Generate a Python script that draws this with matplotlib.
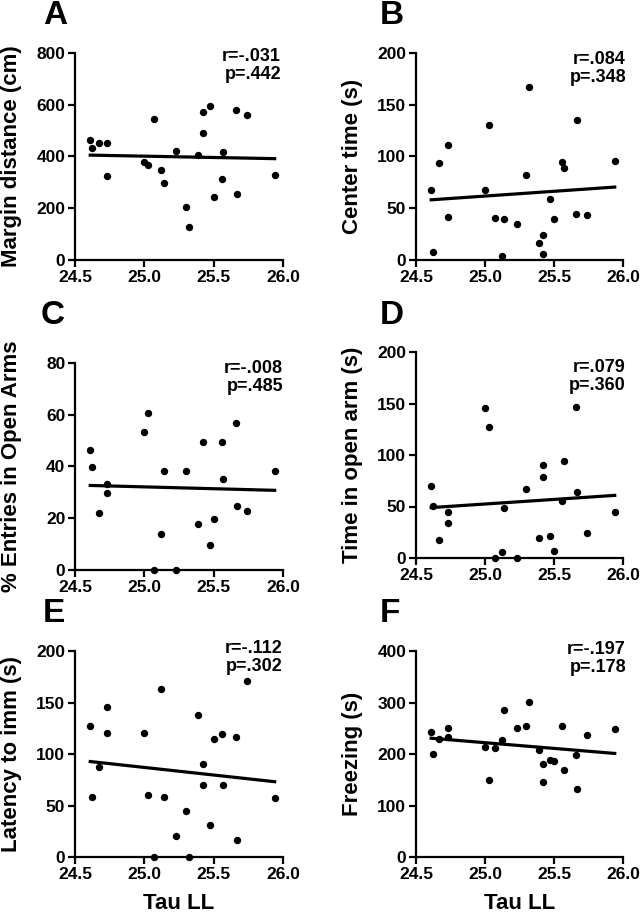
import numpy as np
import matplotlib
matplotlib.use("Agg")
import matplotlib.pyplot as plt

plt.rcParams['font.family'] = ['Liberation Sans', 'DejaVu Sans']
plt.rcParams['font.weight'] = 'bold'

# Tau LL values (x), shared by all panels
tau = [24.61, 24.62, 24.67, 24.73, 24.73, 25.00, 25.03, 25.07, 25.12, 25.14, 25.23, 25.30,
       25.32, 25.39, 25.42, 25.42, 25.47, 25.50, 25.56, 25.57, 25.66, 25.67, 25.74, 25.94]

margin = [464, 431, 452, 454, 323, 377, 368, 545, 348, 297, 421, 205,
          128, 404, 573, 490, 595, 244, 312, 418, 578, 255, 559, 330]
center = [68, 8, 94, 111, 42, 68, 130, 41, 4, 40, 35, 82,
          167, 16, 24, 6, 59, 40, 95, 89, 44, 135, 43, 96]
entries = [46.3, 39.7, 22.0, 33.1, 29.7, 53.5, 60.7, 0, 14.0, 38.2, 0, 38.2,
           np.nan, 17.9, 49.6, np.nan, 9.6, 19.7, 49.6, 35.2, 56.7, 24.7, 22.8, 38.2]
open_arm = [69.7, 50.3, 17.1, 44.5, 33.9, 145.5, 126.8, 0, 5.8, 48.7, 0, 66.8,
            np.nan, 19.7, 90.6, 78.7, 21.6, 7.1, 55.5, 93.9, 146.8, 63.9, 23.9, 44.5]
latency = [127.2, 57.9, 87.1, 145.3, 120.1, 120.1, 60.2, 0, 163.4, 58.3, 20.7, 45.0,
           0, 138.2, 90.3, 70.2, 30.7, 114.9, 119.4, 70.2, 116.2, 16.8, 170.6, 57.0]
freezing = [243.4, 199.4, 228.5, 251.1, 232.4, 214.2, 149.5, 211.7, 227.8, 286.1, 251.1, 253.7,
            301, 207.1, 180, 146.3, 188.3, 187, 253.7, 169.6, 197.4, 131.4, 236.9, 248.5]

letters = ['A', 'B', 'C', 'D', 'E', 'F']
ylabels = ['Margin distance (cm)', 'Center time (s)', '% Entries in Open Arms',
           'Time in open arm (s)', 'Latency to imm (s)', 'Freezing (s)']
ymaxes = [800, 200, 80, 200, 200, 400]
ysteps = [200, 50, 20, 50, 50, 100]
stats = ['r=-.031\np=.442', 'r=.084\np=.348', 'r=-.008\np=.485',
         'r=.079\np=.360', 'r=-.112\np=.302', 'r=-.197\np=.178']
series = [margin, center, entries, open_arm, latency, freezing]

W, H = 640, 913
fig = plt.figure(figsize=(W / 100, H / 100), dpi=100)

# axes boxes in pixels: left, top, right, bottom
boxes = [(75, 53, 283, 260), (416, 53, 623, 260),
         (75, 363, 283, 570), (416, 352, 623, 558),
         (75, 651, 283, 857), (416, 651, 623, 857)]
# top-right corner of the r/p text, and top-left of the panel letter (pixels)
stat_pos = [(281, 48), (626, 51), (283, 360), (626, 359), (283, 640), (626, 641)]
letter_pos = [(43, 0), (380, 0), (41, 300), (380, 300), (43, 598), (380, 598)]

tau_arr = np.array(tau)
for i in range(6):
    l, t, r, b = boxes[i]
    ax = fig.add_axes([l / W, 1 - b / H, (r - l) / W, (b - t) / H])
    y = np.array(series[i], dtype=float)
    ok = ~np.isnan(y)
    ax.plot(tau_arr[ok], y[ok], 'o', color='black', markersize=4.3, clip_on=False, zorder=3)
    slope, icpt = np.polyfit(tau_arr[ok], y[ok], 1)
    xs = np.array([tau_arr[ok].min(), tau_arr[ok].max()])
    ax.plot(xs, slope * xs + icpt, color='black', linewidth=2.3)

    ax.set_xlim(24.5, 26.0)
    ax.set_ylim(0, ymaxes[i])
    ax.set_xticks([24.5, 25.0, 25.5, 26.0])
    ax.set_xticklabels(['24.5', '25.0', '25.5', '26.0'])
    ax.set_yticks(np.arange(0, ymaxes[i] + 1, ysteps[i]))
    for s in ['top', 'right']:
        ax.spines[s].set_visible(False)
    for s in ['left', 'bottom']:
        ax.spines[s].set_linewidth(1.6)
    ax.tick_params(width=1.6, length=5, labelsize=12.5, pad=2)
    for lab in ax.get_xticklabels() + ax.get_yticklabels():
        lab.set_fontweight('bold')

    ax.set_ylabel(ylabels[i], fontsize=16, fontweight='bold')
    ax.yaxis.set_label_coords(-0.255, 0.5)
    if i >= 4:
        ax.set_xlabel('Tau LL', fontsize=16, fontweight='bold', labelpad=8)

    sx, sy = stat_pos[i]
    fig.text(sx / W, 1 - sy / H, stats[i], ha='right', va='top', fontsize=13,
             fontweight='bold', linespacing=1.05)
    lx, ly = letter_pos[i]
    fig.text(lx / W, 1 - ly / H, letters[i], ha='left', va='top', fontsize=24,
             fontweight='bold')

fig.savefig('out.png', dpi=100)
